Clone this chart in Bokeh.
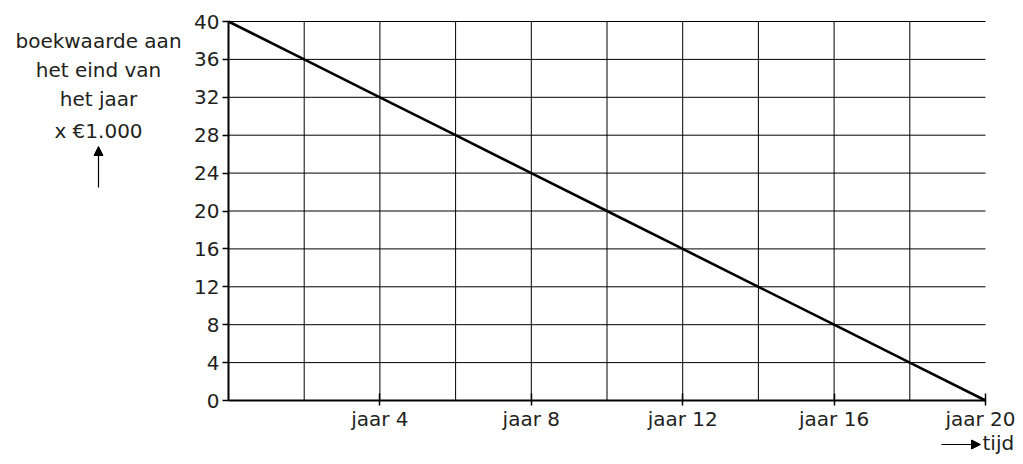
from bokeh.plotting import figure
from bokeh.models import Range1d, FixedTicker, Arrow, NormalHead, ColumnDataSource
from bokeh.core.properties import value
from bokeh.embed import file_html
from bokeh.resources import INLINE

# Data
jaren = [0, 2, 4, 6, 8, 10, 12, 14, 16, 18, 20]
boekwaarde = [40, 36, 32, 28, 24, 20, 16, 12, 8, 4, 0]
x_ticks = [4, 8, 12, 16, 20]
x_tick_labels = ["jaar 4", "jaar 8", "jaar 12", "jaar 16", "jaar 20"]
y_ticks = [0, 4, 8, 12, 16, 20, 24, 28, 32, 36, 40]
x_grid = [2, 4, 6, 8, 10, 12, 14, 16, 18]
y_grid = [4, 8, 12, 16, 20, 24, 28, 32, 36, 40]
y_title_lines = ["boekwaarde aan", "het eind van", "het jaar", "x \u20ac1.000"]
x_title = "tijd"

FONT = "DejaVu Sans"
FS = "20px"
TXT = "#231f20"

W, H = 1015, 456
X0, X1 = 228, 985   # pixel positions of year 0 and year 20
Y40, Y0 = 21, 400   # pixel positions of value 40 and value 0
ppx = (X1 - X0) / 20.0
ppy = (Y0 - Y40) / 40.0

def dx(px):
    return (px - X0) / ppx

def dy(py):
    return (Y0 - py) / ppy

p = figure(width=W, height=H, x_range=Range1d(dx(0), dx(W)), y_range=Range1d(dy(H), dy(0)),
           output_backend="svg", toolbar_location=None, min_border=0)
p.outline_line_color = None
p.background_fill_color = "white"
p.xgrid.visible = False
p.ygrid.visible = False

# axes drawn at data origin
p.xaxis.fixed_location = 0
p.yaxis.fixed_location = 0
p.xaxis.bounds = (0, 20)
p.yaxis.bounds = (0, 40)
p.xaxis.ticker = FixedTicker(ticks=x_ticks)
p.xaxis.major_label_overrides = {t: l for t, l in zip(x_ticks, x_tick_labels)}
p.yaxis.ticker = FixedTicker(ticks=y_ticks)
for ax in (p.xaxis, p.yaxis):
    ax.axis_line_color = "black"
    ax.axis_line_width = 2
    ax.major_tick_line_color = "black"
    ax.major_tick_line_width = 1.5
    ax.minor_tick_line_color = None
    ax.major_label_text_font = FONT
    ax.major_label_text_font_size = FS
    ax.major_label_text_color = TXT
p.xaxis.major_tick_out = 5
p.xaxis.major_tick_in = 7
p.xaxis.major_label_standoff = 1
p.yaxis.major_tick_out = 6
p.yaxis.major_tick_in = 0
p.yaxis.major_label_standoff = 3

# grid lines
p.segment(x0=x_grid, y0=[0] * len(x_grid), x1=x_grid, y1=[40] * len(x_grid),
          line_color="black", line_width=1)
p.segment(x0=[0] * len(y_grid), y0=y_grid, x1=[20] * len(y_grid), y1=y_grid,
          line_color="black", line_width=1)

# the line
src = ColumnDataSource(dict(x=jaren, y=boekwaarde))
p.line("x", "y", source=src, line_color="black", line_width=2.6)

# y title (left, stacked lines)
xc = dx(98)
baselines = [40, 69, 98, 130.5]
p.text(x=[xc] * len(y_title_lines), y=[dy(b) for b in baselines], text=y_title_lines,
       text_align="center", text_baseline="alphabetic", text_font=value(FONT),
       text_font_size=FS, text_color=TXT)

# up arrow
p.add_layout(Arrow(x_start=xc, y_start=dy(187), x_end=xc, y_end=dy(146),
                   line_color="black", line_width=1.2,
                   end=NormalHead(size=9, fill_color="black", line_color="black", line_width=1)))

# right arrow + tijd
p.add_layout(Arrow(x_start=dx(941), y_start=dy(444), x_end=dx(980), y_end=dy(444),
                   line_color="black", line_width=1.2,
                   end=NormalHead(size=9, fill_color="black", line_color="black", line_width=1)))
p.text(x=[dx(982)], y=[dy(442)], text=[x_title], text_align="left", text_baseline="middle",
       text_font=value(FONT), text_font_size=FS, text_color=TXT)

open("out.html", "w").write(file_html(p, INLINE))
